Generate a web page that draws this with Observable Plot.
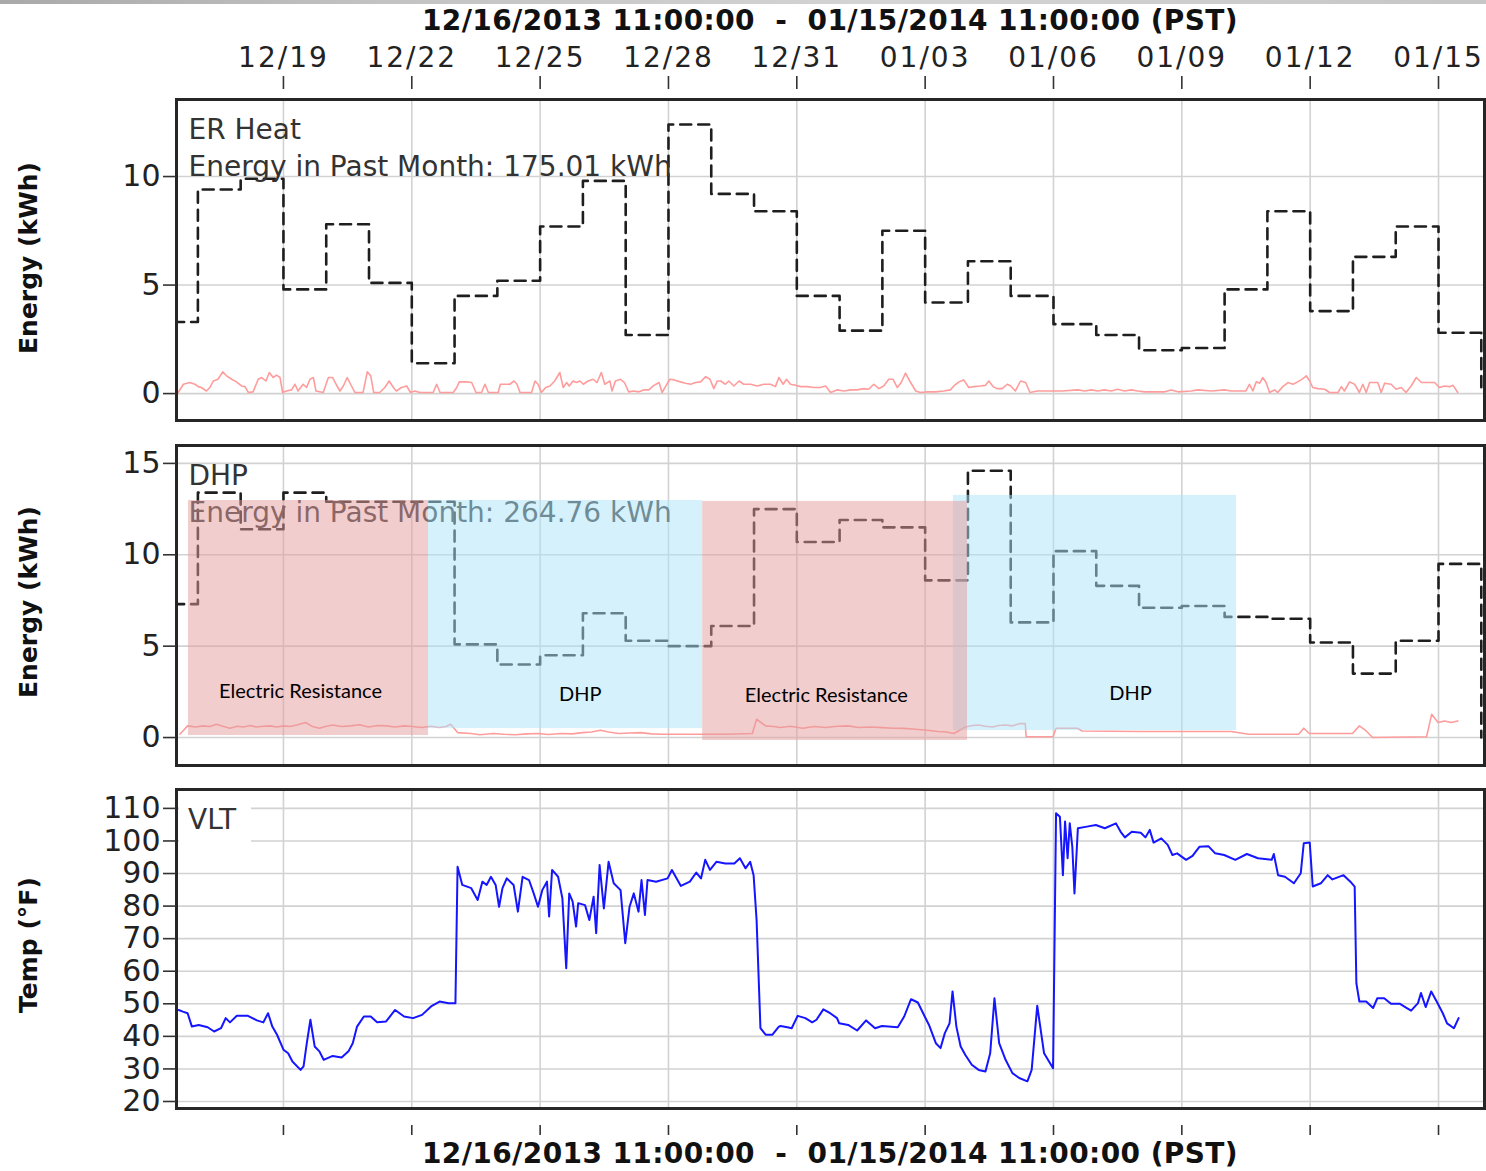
<!DOCTYPE html>
<html><head><meta charset="utf-8">
<script src="https://cdn.jsdelivr.net/npm/d3@7"></script>
<script src="https://cdn.jsdelivr.net/npm/@observablehq/plot@0.6"></script>
<style>
html,body{margin:0;padding:0;background:#fff;}
#wrap{position:relative;width:1486px;height:1171px;overflow:hidden;font-family:"DejaVu Sans",sans-serif;}
.topband{position:absolute;left:0;top:0;width:1486px;height:4px;background:linear-gradient(to right,#a9a9a9,#c2c2c2 25%,#d4d4d4 60%,#c6c6c6);}
.panel{position:absolute;left:0;}
.title{position:absolute;left:176px;width:1308px;text-align:center;font:bold 28px "DejaVu Sans";letter-spacing:0.4px;color:#111;white-space:pre;line-height:normal;}
.ytitle{position:absolute;font:bold 25px "DejaVu Sans";color:#111;transform:translate(-50%,-50%) rotate(-90deg);white-space:nowrap;}
.vlt{position:absolute;left:179px;top:794px;width:72px;height:50px;background:#fff;font:28px "DejaVu Sans";color:#333;box-sizing:border-box;padding:9px 0 0 9px;line-height:normal;}
g[aria-label="x-axis tick label"]{letter-spacing:2px;}
</style>
</head><body>
<div id="wrap"></div>
<script>
// ---------- data ----------
const titleText = "12/16/2013 11:00:00  -  01/15/2014 11:00:00 (PST)";
const tickLabels = ["12/19","12/22","12/25","12/28","12/31","01/03","01/06","01/09","01/12","01/15"];
const panelNames = ["ER Heat", "DHP", "VLT"];
const monthEnergy = [175.01, 264.76];
const yTitles = ["Energy (kWh)", "Energy (kWh)", "Temp (\u00b0F)"];
const yTicks1 = [0, 5, 10];
const yTicks2 = [0, 5, 10, 15];
const yTicks3 = [20, 30, 40, 50, 60, 70, 80, 90, 100, 110];

// daily energy (one value per day, 12/16 .. 01/16)
const erDaily  = [3.3, 9.4, 9.9, 4.8, 7.8, 5.1, 1.4, 4.5, 5.2, 7.7, 9.8, 2.7, 12.4, 9.2, 8.4, 4.5, 2.9, 7.5, 4.2, 6.1, 4.5, 3.2, 2.7, 2.0, 2.1, 4.8, 8.4, 3.8, 6.3, 7.7, 2.8, 0];
const dhpDaily = [7.3, 13.4, 11.4, 13.4, 12.9, 12.9, 12.9, 5.1, 4.0, 4.5, 6.8, 5.3, 5.0, 6.1, 12.5, 10.7, 11.9, 11.5, 8.6, 14.6, 6.3, 10.2, 8.3, 7.1, 7.2, 6.6, 6.5, 5.2, 3.5, 5.3, 9.5, 0];

// hourly energy [days since 12/16 00:00, kWh]
const erHourly = [[0.54,0.05],[0.66,0.43],[0.81,0.51],[0.93,0.43],[1.01,0.32],[1.08,0.28],[1.20,0.12],[1.28,0.28],[1.36,0.58],[1.47,0.66],[1.58,1.0],[1.67,0.82],[1.79,0.66],[1.90,0.54],[2.02,0.35],[2.10,0.32],[2.18,0.05],[2.29,0.08],[2.41,0.66],[2.49,0.74],[2.59,0.58],[2.67,0.97],[2.76,0.74],[2.84,0.85],[2.92,0.74],[2.98,0.05],[3.07,0.12],[3.19,0.17],[3.27,0.43],[3.34,0.12],[3.46,0.43],[3.54,0.28],[3.62,0.66],[3.70,0.74],[3.76,0.12],[3.93,0.05],[4.05,0.74],[4.15,0.74],[4.23,0.43],[4.32,0.12],[4.40,0.35],[4.49,0.74],[4.57,0.43],[4.67,0.05],[4.86,0.05],[4.96,1.0],[5.04,0.82],[5.11,0.05],[5.25,0.05],[5.37,0.28],[5.47,0.58],[5.57,0.28],[5.64,0.12],[5.76,0.28],[5.88,0.35],[5.97,0.05],[6.07,0.12],[6.19,0.05],[6.50,0.05],[6.58,0.43],[6.66,0.05],[6.97,0.05],[7.05,0.28],[7.11,0.54],[7.28,0.54],[7.40,0.51],[7.50,0.05],[7.63,0.05],[7.71,0.43],[7.79,0.05],[8.02,0.05],[8.07,0.43],[8.29,0.43],[8.39,0.58],[8.46,0.43],[8.53,0.05],[8.80,0.05],[8.88,0.58],[8.95,0.43],[9.03,0.05],[9.13,0.28],[9.23,0.35],[9.34,0.58],[9.46,0.97],[9.54,0.28],[9.62,0.51],[9.68,0.35],[9.77,0.58],[9.85,0.51],[9.93,0.58],[10.01,0.43],[10.12,0.58],[10.24,0.66],[10.33,0.51],[10.43,0.97],[10.51,0.43],[10.63,0.58],
[10.68,0.12],[10.76,0.58],[10.88,0.66],[10.97,0.51],[11.07,0.08],[11.19,0.12],[11.31,0.08],[11.42,0.17],[11.54,0.17],[11.66,0.38],[11.78,0.51],[11.85,0.05],[11.93,0.32],[12.03,0.66],[12.13,0.63],[12.28,0.54],[12.40,0.48],[12.52,0.43],[12.63,0.51],[12.75,0.54],[12.87,0.78],[12.97,0.66],[13.06,0.23],[13.14,0.58],[13.22,0.58],[13.33,0.43],[13.41,0.58],[13.53,0.35],[13.65,0.58],[13.76,0.43],[13.92,0.43],[14.07,0.35],[14.23,0.43],[14.39,0.43],[14.50,0.32],[14.58,0.74],[14.68,0.43],[14.76,0.66],[14.85,0.43],[14.97,0.38],[15.09,0.32],[15.24,0.32],[15.40,0.28],[15.55,0.28],[15.67,0.35],[15.79,0.05],[15.94,0.17],[16.10,0.12],[16.26,0.17],[16.41,0.17],[16.57,0.23],[16.68,0.20],[16.80,0.43],[16.92,0.23],[17.03,0.35],[17.15,0.66],[17.25,0.66],[17.35,0.28],[17.44,0.51],[17.54,0.94],[17.64,0.58],[17.78,0.12],[17.89,0.05],[18.05,0.08],[18.24,0.08],[18.44,0.12],[18.59,0.17],[18.67,0.35],[18.79,0.54],[18.90,0.63],[19.02,0.28],[19.14,0.32],[19.29,0.35],[19.41,0.38],[19.49,0.58],[19.59,0.32],[19.68,0.23],[19.80,0.23],[19.92,0.43],[20.00,0.35],[20.11,0.12],[20.23,0.58],[20.35,0.51],[20.45,0.05],[20.62,0.12],[20.77,0.12],
[21.20,0.12],[21.57,0.17],[21.73,0.12],[21.88,0.17],[22.04,0.12],[22.19,0.17],[22.35,0.12],[22.50,0.20],[22.66,0.12],[22.82,0.17],[22.97,0.12],[23.13,0.08],[23.60,0.08],[23.75,0.17],[23.91,0.08],[24.22,0.12],[24.37,0.17],[24.69,0.12],[25.00,0.17],[25.15,0.12],[25.50,0.12],[25.58,0.43],[25.66,0.12],[25.74,0.54],[25.82,0.48],[25.89,0.74],[25.97,0.51],[26.05,0.05],[26.17,0.17],[26.24,0.05],[26.36,0.32],[26.48,0.51],[26.60,0.43],[26.71,0.54],[26.83,0.69],[26.91,0.82],[26.99,0.58],[27.06,0.28],[27.18,0.23],[27.34,0.20],[27.45,0.05],[27.65,0.05],[27.73,0.32],[27.80,0.12],[27.92,0.54],[28.04,0.43],[28.15,0.05],[28.23,0.43],[28.31,0.05],[28.39,0.51],[28.58,0.51],[28.66,0.05],[28.74,0.48],[28.89,0.43],[29.01,0.20],[29.13,0.28],[29.24,0.05],[29.36,0.35],[29.48,0.74],[29.60,0.51],[29.75,0.51],[29.91,0.51],[30.02,0.28],[30.14,0.35],[30.26,0.32],[30.34,0.38],[30.45,0.05]];

const dhpHourly = [[0.58,0.18],[0.76,0.64],[0.95,0.58],[1.12,0.64],[1.28,0.6],[1.43,0.73],[1.60,0.6],[1.75,0.51],[1.92,0.62],[2.07,0.58],[2.22,0.66],[2.37,0.58],[2.53,0.62],[2.69,0.64],[2.85,0.58],[3.00,0.64],[3.15,0.6],[3.31,0.69],[3.52,0.82],[3.68,0.6],[3.84,0.51],[4.00,0.62],[4.15,0.69],[4.36,0.6],[4.57,0.64],[4.78,0.7],[4.99,0.58],[5.20,0.66],[5.40,0.64],[5.61,0.58],[5.82,0.64],[6.02,0.6],[6.23,0.55],[6.44,0.62],[6.65,0.55],[6.80,0.6],[6.91,0.73],[7.07,0.27],[7.38,0.22],[7.59,0.15],[7.91,0.22],[8.15,0.18],[8.42,0.15],[8.70,0.2],[8.95,0.22],[9.20,0.17],[9.48,0.22],[9.75,0.2],[9.99,0.27],[10.20,0.3],[10.41,0.40],[10.60,0.3],[10.83,0.22],[11.10,0.25],[11.35,0.27],[11.60,0.2],[11.87,0.18],[12.49,0.18],[13.33,0.18],[13.96,0.22],[14.06,1.0],[14.27,0.64],[14.45,0.6],[14.62,0.55],[14.85,0.62],[15.14,0.51],[15.40,0.6],[15.67,0.55],[15.95,0.62],[16.20,0.64],[16.45,0.55],[16.72,0.58],[17.00,0.54],[17.25,0.51],[17.50,0.5],[17.77,0.45],[18.05,0.4],[18.30,0.33],[18.50,0.3],[18.67,0.22],[18.94,0.58],[19.10,0.66],[19.25,0.69],[19.40,0.62],[19.57,0.58],[19.72,0.66],[19.88,0.69],[20.05,0.64],[20.20,0.76],[20.34,0.76],[20.36,0.04],[20.99,0.04],[21.06,0.51],[21.56,0.51],[21.67,0.36],[23.04,0.33],[25.15,0.33],[25.57,0.18],[26.73,0.18],[26.85,0.51],[26.98,0.22],[27.99,0.22],[28.15,0.64],[28.31,0.36],[28.46,0.0],[29.72,0.04],[29.84,1.27],[29.99,0.82],[30.14,0.91],[30.30,0.82],[30.45,0.91]];

// VLT temperature [days since 12/16 00:00, °F]
const vltTemp = [[0.55,48.1],[0.65,47.6],[0.76,47.1],[0.86,43.0],[1.02,43.5],[1.23,42.8],[1.38,41.5],[1.54,42.5],[1.65,45.6],[1.75,44.3],[1.91,46.3],[2.17,46.3],[2.38,44.9],[2.53,44.3],[2.64,47.1],[2.74,43.0],[2.85,40.5],[3.00,35.9],[3.11,34.8],[3.21,32.3],[3.40,29.7],[3.47,30.8],[3.54,37.4],[3.63,45.1],[3.73,36.9],[3.84,35.4],[3.94,32.8],[4.15,34.0],[4.36,33.5],[4.52,35.4],[4.62,37.9],[4.72,43.0],[4.88,46.1],[5.04,46.1],[5.19,44.3],[5.40,44.6],[5.61,48.1],[5.82,46.1],[6.03,45.6],[6.24,46.6],[6.45,49.2],[6.65,50.7],[6.86,50.2],[7.02,50.2],[7.07,92.1],[7.18,86.5],[7.39,85.5],[7.54,81.9],[7.65,87.5],[7.75,86.5],[7.85,89.0],[7.96,86.5],[8.04,79.8],[8.12,85.5],[8.22,88.5],[8.38,86.5],[8.48,78.3],[8.59,89.0],[8.74,88.0],[8.85,83.9],[8.95,79.8],[9.05,84.9],[9.16,87.5],[9.21,76.8],[9.28,91.1],[9.42,89.0],[9.52,82.4],[9.61,60.9],[9.68,83.9],[9.76,81.4],[9.84,73.7],[9.89,80.9],[10.05,80.3],[10.15,75.7],[10.25,82.9],[10.31,71.7],[10.39,92.6],[10.49,79.3],[10.60,93.6],[10.72,87.0],[10.88,84.9],[10.99,68.6],[11.09,79.8],[11.19,83.9],[11.30,78.3],[11.37,88.0],[11.45,77.3],[11.51,88.0],[11.71,87.5],[11.98,88.5],[12.08,91.1],[12.29,86.2],[12.50,87.5],[12.65,90.3],[12.76,88.5],[12.86,94.2],[12.97,91.1],[13.12,93.6],[13.33,93.1],[13.54,93.1],[13.67,94.7],[13.80,91.6],[13.91,93.6],[13.99,89.5],[14.06,75.7],[14.15,42.5],[14.27,40.5],[14.43,40.5],[14.58,43.0],[14.62,43.2],[14.78,42.8],[14.88,42.5],[15.02,46.3],[15.20,45.6],[15.36,44.3],[15.46,45.1],[15.62,48.3],[15.78,47.1],[15.94,45.6],[15.99,44.0],[16.20,43.5],[16.41,41.8],[16.62,44.9],[16.83,42.5],[16.99,43.2],[17.36,42.8],[17.51,46.1],[17.67,51.4],[17.83,50.4],[17.99,46.1],[18.09,43.5],[18.25,37.9],[18.36,36.4],[18.46,41.0],[18.57,44.0],[18.64,53.8],[18.73,43.0],[18.83,36.9],[18.94,34.3],[19.09,31.3],[19.25,29.7],[19.41,29.2],[19.52,34.8],[19.62,51.7],[19.73,37.9],[19.88,32.8],[20.04,28.7],[20.20,27.2],[20.39,26.2],[20.49,29.7],[20.62,49.4],[20.78,34.8],[20.99,30.2],[21.06,108.5],[21.15,107.4],[21.22,89.5],[21.27,106.0],[21.33,94.7],[21.38,105.4],[21.44,98.2],[21.49,83.9],[21.57,103.9],[21.78,104.4],[21.99,104.9],[22.20,103.9],[22.46,105.4],[22.57,102.8],[22.67,101.1],[22.83,102.8],[23.04,102.5],[23.15,101.1],[23.25,103.4],[23.34,99.5],[23.52,100.8],[23.67,98.8],[23.78,95.7],[23.89,96.2],[24.10,94.2],[24.25,95.4],[24.41,98.2],[24.62,98.4],[24.78,96.2],[24.99,95.7],[25.25,94.2],[25.52,96.0],[25.78,94.7],[26.10,94.2],[26.15,96.0],[26.25,89.5],[26.41,89.0],[26.62,87.0],[26.78,90.1],[26.85,99.3],[26.99,99.5],[27.06,86.0],[27.25,87.0],[27.41,89.5],[27.52,88.2],[27.78,89.5],[27.94,87.5],[28.04,86.0],[28.08,56.3],[28.15,50.7],[28.31,50.7],[28.47,48.7],[28.57,51.7],[28.73,51.7],[28.89,50.0],[29.10,50.0],[29.26,48.7],[29.36,47.9],[29.52,50.2],[29.59,53.3],[29.70,49.0],[29.83,53.8],[29.97,50.4],[30.10,47.1],[30.20,44.0],[30.36,42.5],[30.47,45.6]];

// annotated heating-mode periods (panel 2)
const periodLabels = ["Electric Resistance", "DHP", "Electric Resistance", "DHP"];
const periodStart  = [0.78, 6.39, 12.80, 18.66];   // days since 12/16 00:00
const periodEnd    = [6.39, 12.80, 18.99, 25.28];
const periodTop    = [12.97, 12.97, 12.92, 13.25]; // kWh
const periodBottom = [0.11, 0.49, -0.16, 0.38];
const periodLabelDay   = [3.40, 9.94, 15.69, 22.80];
const periodLabelValue = [2.5, 2.35, 2.3, 2.4];

// ---------- helpers ----------
const t0 = Date.UTC(2013, 11, 16);
const toDate = d => new Date(t0 + d * 864e5);
const xDomain = [toDate(0.5), toDate(31.075)];
const tickDates = tickLabels.map(s => { const [m, d] = s.split("/").map(Number); return new Date(Date.UTC(m === 12 ? 2013 : 2014, m - 1, d)); });
const dailyDates = d3.utcDay.range(new Date(t0), new Date(Date.UTC(2014, 0, 17)));
const erSteps = dailyDates.map((date, i) => ({date, value: erDaily[i]}));
const dhpSteps = dailyDates.map((date, i) => ({date, value: dhpDaily[i]}));
const periods = periodLabels.map((label, i) => ({label, start: toDate(periodStart[i]), end: toDate(periodEnd[i]),
  top: periodTop[i], bottom: periodBottom[i], lx: toDate(periodLabelDay[i]), ly: periodLabelValue[i]}));

const gridColor = "#d2d2d2";
const fmt = d3.utcFormat("%m/%d");

function basePanel({height, marginTop, marginBottom, yDomain, yTicks, marks}) {
  return Plot.plot({
    width: 1486, height, marginLeft: 176, marginRight: 2, marginTop, marginBottom,
    x: {type: "utc", domain: xDomain, axis: null},
    y: {domain: yDomain, axis: null},
    style: {fontFamily: "DejaVu Sans", fontSize: "28px", color: "#222", background: "transparent", overflow: "visible"},
    marks: [
      Plot.gridX(tickDates, {stroke: gridColor, strokeOpacity: 1, strokeWidth: 1.6}),
      Plot.gridY(yTicks, {stroke: gridColor, strokeOpacity: 1, strokeWidth: 1.6}),
      ...marks,
      Plot.frame({stroke: "#262626", strokeWidth: 3}),
      Plot.axisY(yTicks, {anchor: "left", tickSize: 13, tickPadding: 3, fontSize: 30, label: null, stroke: "#333", strokeWidth: 1.6})
    ]
  });
}

const stepStyle = {x: "date", y: "value", curve: "step-after", stroke: "#1e1e1e", strokeWidth: 2.6, strokeDasharray: "11,7", clip: true};
const redStyle = {x: d => toDate(d[0]), y: d => d[1], stroke: "#ff9c9c", strokeWidth: 1.6, clip: true};
const labelStyle = {frameAnchor: "top-left", textAnchor: "start", lineAnchor: "top", dx: 12, dy: 14, fontSize: 28, lineHeight: 1.3, fill: "#333", text: d => d};

const p1 = basePanel({height: 430, marginTop: 99, marginBottom: 10, yDomain: [-1.24, 13.55], yTicks: yTicks1, marks: [
  Plot.line(erHourly, redStyle),
  Plot.line(erSteps, stepStyle),
  Plot.text([`${panelNames[0]}\nEnergy in Past Month: ${monthEnergy[0].toFixed(2)} kWh`], labelStyle),
  Plot.axisX(tickDates, {anchor: "top", tickSize: 13, tickPadding: 9, dy: -11, tickFormat: fmt, fontSize: 28, label: null, stroke: "#333", strokeWidth: 1.6})
]});

const pinkFill = "#e39b9b", blueFill = "#abe3f9";
const p2 = basePanel({height: 345, marginTop: 15, marginBottom: 10, yDomain: [-1.53, 15.98], yTicks: yTicks2, marks: [
  Plot.line(dhpHourly, redStyle),
  Plot.line(dhpSteps, stepStyle),
  Plot.text([`${panelNames[1]}\nEnergy in Past Month: ${monthEnergy[1].toFixed(2)} kWh`], labelStyle),
  Plot.rect(periods.filter(p => p.label === "DHP"), {x1: "start", x2: "end", y1: "bottom", y2: "top", fill: blueFill, fillOpacity: 0.5}),
  Plot.rect(periods.filter(p => p.label !== "DHP"), {x1: "start", x2: "end", y1: "bottom", y2: "top", fill: pinkFill, fillOpacity: 0.5}),
  Plot.text(periods, {x: "lx", y: "ly", text: "label", fontFamily: "Lato", fontSize: 20, fill: "#000"})
]});

const p3 = basePanel({height: 396, marginTop: 14, marginBottom: 63, yDomain: [17.85, 115.8], yTicks: yTicks3, marks: [
  Plot.line(vltTemp, {x: d => toDate(d[0]), y: d => d[1], stroke: "#1515ff", strokeWidth: 2, clip: true}),
  Plot.axisX(tickDates, {anchor: "bottom", tickSize: 10, dy: 17, tickFormat: () => "", label: null, stroke: "#333", strokeWidth: 1.6})
]});

const wrap = document.getElementById("wrap");
const band = document.createElement("div"); band.className = "topband"; wrap.appendChild(band);
[[p1, 0], [p2, 430], [p3, 775]].forEach(([svg, top]) => { svg.classList.add("panel"); svg.style.top = top + "px"; wrap.appendChild(svg); });

function addDiv(cls, text, css) { const el = document.createElement("div"); el.className = cls; el.textContent = text; Object.assign(el.style, css); wrap.appendChild(el); }
addDiv("title", titleText, {top: "4px"});
addDiv("title", titleText, {top: "1137px"});
addDiv("ytitle", yTitles[0], {left: "28px", top: "258px"});
addDiv("ytitle", yTitles[1], {left: "28px", top: "602px"});
addDiv("ytitle", yTitles[2], {left: "28px", top: "945px"});
addDiv("vlt", panelNames[2], {});
</script>
</body></html>
